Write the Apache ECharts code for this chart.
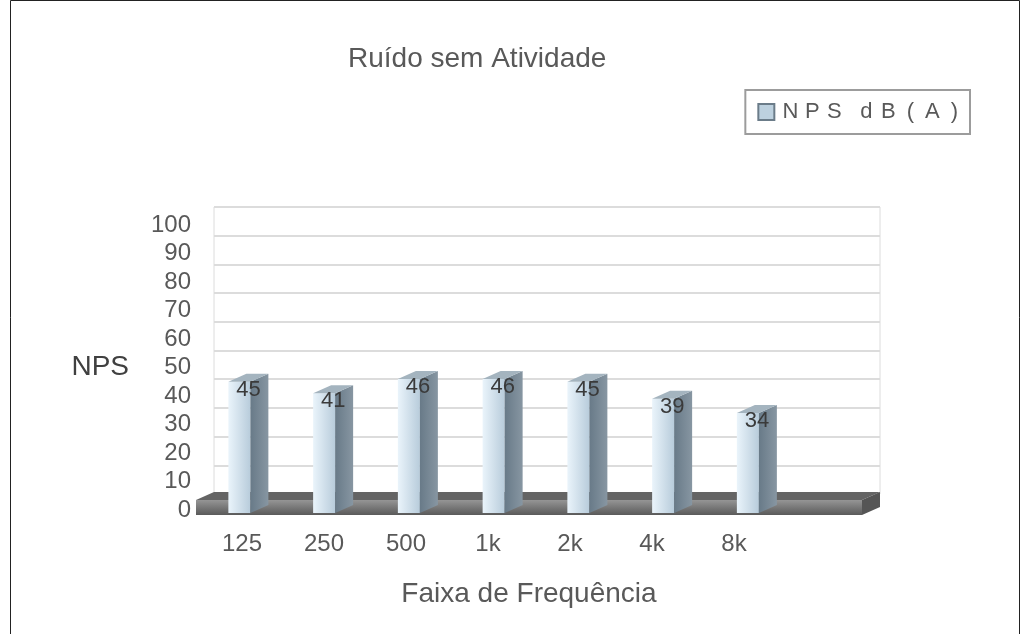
<!DOCTYPE html>
<html><head><meta charset="utf-8">
<script src="https://cdn.jsdelivr.net/npm/echarts@6/dist/echarts.min.js"></script>
<style>html,body{margin:0;padding:0;background:#fff}#c{width:1029px;height:634px}</style>
</head><body><div id="c"></div>
<script>
const chartTitle = 'Ruído sem Atividade';
const seriesName = 'NPS dB(A)';
const xName = 'Faixa de Frequência';
const yName = 'NPS';
const categories = ['125', '250', '500', '1k', '2k', '4k', '8k', ''];
const values = [45, 41, 46, 46, 45, 39, 34];
const yMin = 0, yMax = 100, yStep = 10;

const FONT = 'Liberation Sans';
const TXT = '#595959';
const chart = echarts.init(document.getElementById('c'), null, {renderer: 'canvas'});

function floorItem(params, api) {
  const p0 = api.coord([0, 0]);
  const pN = api.coord([categories.length - 1, 0]);
  const bw = api.size([1, 0])[0];
  const y0 = p0[1];
  const left = p0[0] - bw / 2 - 6;
  const right = pN[0] + bw / 2 - 18;
  return {type: 'group', children: [
    {type: 'polygon', shape: {points: [[left, y0 - 10], [right, y0 - 10], [right + 18, y0 - 18], [left + 18, y0 - 18]]},
     style: {fill: '#646464'}},
    {type: 'rect', shape: {x: left, y: y0 - 10, width: right - left, height: 15},
     style: {fill: new echarts.graphic.LinearGradient(0, 0, 0, 1, [{offset: 0, color: '#959595'}, {offset: 1, color: '#5a5a5a'}])}},
    {type: 'polygon', shape: {points: [[right, y0 - 10], [right + 18, y0 - 18], [right + 18, y0 - 3], [right, y0 + 5]]},
     style: {fill: '#555'}}
  ]};
}

function barItem(params, api) {
  const i = api.value(0), v = api.value(1);
  const c = api.coord([i, v]);
  const base = api.coord([i, 0]);
  const x0 = c[0] - 16, xm = c[0] + 6, x1 = c[0] + 24;
  const yt = c[1], yb = base[1] + 3, d = 8;
  return {type: 'group', children: [
    {type: 'rect', shape: {x: x0, y: yt, width: xm - x0, height: yb - yt},
     style: {fill: new echarts.graphic.LinearGradient(0, 0, 1, 0, [{offset: 0, color: '#eaf4fb'}, {offset: 1, color: '#b8ccdb'}])}},
    {type: 'polygon', shape: {points: [[xm, yt], [x1, yt - d], [x1, yb - d], [xm, yb]]},
     style: {fill: new echarts.graphic.LinearGradient(0, 0, 1, 0, [{offset: 0, color: '#687a88'}, {offset: 1, color: '#8796a2'}])}},
    {type: 'polygon', shape: {points: [[x0, yt], [xm, yt], [x1, yt - d], [x0 + 18, yt - d]]},
     style: {fill: '#a4b4bf'}},
    {type: 'text', style: {text: String(v), x: c[0] + 4, y: yt + 8, align: 'center', verticalAlign: 'middle',
      fontSize: 22, fontFamily: FONT, fill: '#3a3a3a'}}
  ]};
}

const option = {
  animation: false,
  backgroundColor: '#ffffff',
  textStyle: {fontFamily: FONT},
  title: {text: chartTitle, left: 343, top: 40,
    textStyle: {fontSize: 28, fontWeight: 'normal', color: TXT, fontFamily: FONT}},
  legend: {
    data: [seriesName], right: 59, top: 90, orient: 'horizontal',
    borderColor: '#9c9c9c', borderWidth: 2, padding: [11, 12], backgroundColor: '#fff',
    itemWidth: 16, itemHeight: 16, icon: 'rect', itemGap: 6,
    formatter: function (name) {
      return name.split('').map(ch => ch === ' ' ? '{s| }' : '{c|' + ch + '}').join('');
    },
    textStyle: {color: TXT, fontFamily: FONT, fontSize: 22,
      rich: {c: {width: 22, align: 'center', fontSize: 22, color: TXT, fontFamily: FONT},
             s: {width: 10, fontSize: 22}}}
  },
  graphic: [{type: 'rect', shape: {x: 10.5, y: 0.5, width: 1009, height: 660},
    style: {fill: 'none', stroke: '#222', lineWidth: 1}, silent: true, z: 100}],
  grid: [
    {left: 214, right: 149, top: 207, bottom: 140, show: true, borderColor: '#dcdcdc', borderWidth: 1, backgroundColor: 'transparent'},
    {left: 201, right: 172, top: 225, bottom: 124},
    {left: 202, right: 149, top: 225, bottom: 124}
  ],
  xAxis: [
    {type: 'category', gridIndex: 0, data: categories, show: false},
    {type: 'category', gridIndex: 1, data: categories,
     axisLine: {show: false}, axisTick: {show: false},
     axisLabel: {fontSize: 24, color: TXT, margin: 22, fontFamily: FONT},
     name: xName, nameLocation: 'middle', nameGap: 70,
     nameTextStyle: {fontSize: 28, color: TXT, fontFamily: FONT}},
    {type: 'category', gridIndex: 2, data: categories, show: false}
  ],
  yAxis: [
    {type: 'value', gridIndex: 0, min: yMin, max: yMax, interval: yStep,
     axisLabel: {show: false}, axisLine: {show: false}, axisTick: {show: false},
     splitLine: {lineStyle: {color: '#dcdcdc', width: 2}}},
    {type: 'value', gridIndex: 1, min: yMin, max: yMax, interval: yStep,
     axisLabel: {fontSize: 24, color: TXT, margin: 10, fontFamily: FONT},
     axisLine: {show: false}, axisTick: {show: false}, splitLine: {show: false},
     name: yName, nameLocation: 'middle', nameRotate: 0, nameGap: 72,
     nameTextStyle: {fontSize: 28, color: '#404040', fontFamily: FONT}},
    {type: 'value', gridIndex: 2, min: yMin, max: yMax, interval: yStep, show: false}
  ],
  series: [
    {type: 'custom', name: 'floor', xAxisIndex: 2, yAxisIndex: 2, data: [[0, 0]], renderItem: floorItem, z: 1, silent: true},
    {type: 'custom', name: seriesName, xAxisIndex: 2, yAxisIndex: 2,
     itemStyle: {color: '#bdd1df', borderColor: '#6b7c89', borderWidth: 1},
     data: values.map((v, i) => [i, v]), renderItem: barItem, z: 2}
  ]
};
chart.setOption(option);
</script></body></html>
